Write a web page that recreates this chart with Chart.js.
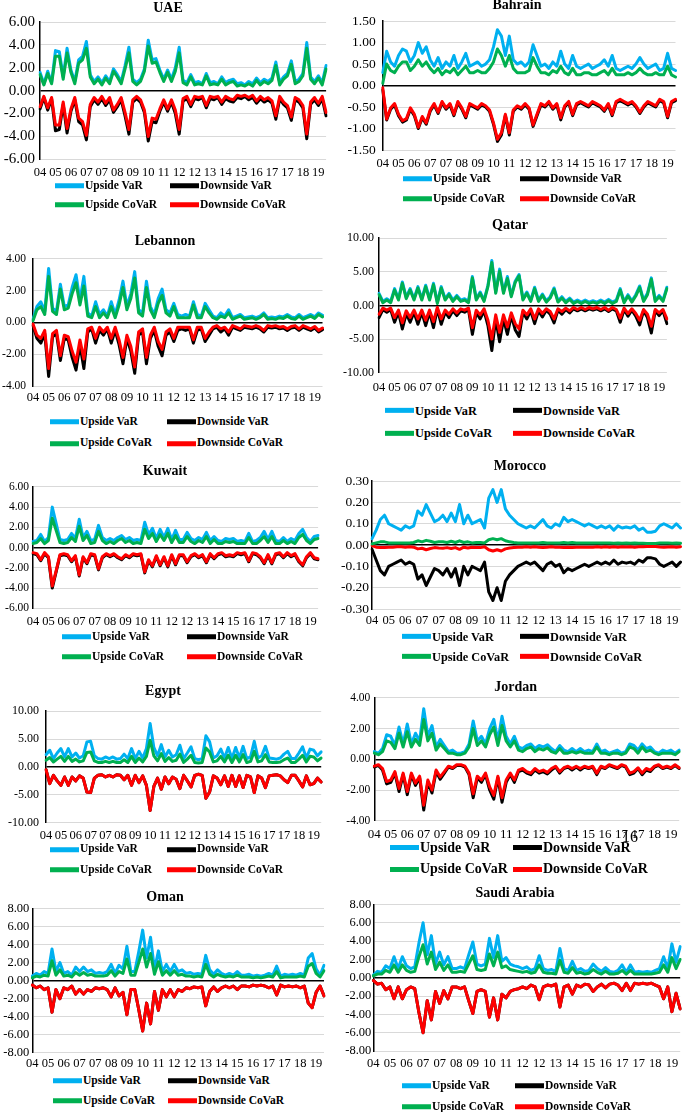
<!DOCTYPE html>
<html><head><meta charset="utf-8">
<script src="https://cdn.jsdelivr.net/npm/chart.js@4.4.0/dist/chart.umd.min.js"></script>
<style>
html,body{margin:0;padding:0;background:#fff;}
body{width:685px;height:1112px;position:relative;overflow:hidden;font-family:"Liberation Serif","Times New Roman",serif;color:#000;}
.title{position:absolute;font-weight:bold;font-size:14px;white-space:nowrap;transform:translate(-50%,-50%);line-height:1;}
.leg{position:absolute;font-weight:bold;white-space:nowrap;display:flex;align-items:center;transform:translateY(-50%);line-height:1;}
.leg i{display:inline-block;width:29px;height:5px;margin-right:1px;}
.stray{position:absolute;font-size:16px;line-height:1;}
</style></head><body>
<script>
// ---- tick labels and series names ----
const yearTicks = ['04','05','06','07','07','08','09','10','11','12','12','13','14','15','16','17','17','18','19'];
const seriesNames = ['Upside VaR','Downside VaR','Upside CoVaR','Downside CoVaR'];
const seriesColors = ['#00B0F0','#000000','#00B050','#FF0000'];

// ---- UAE ----
const uaeUpVaR = [1.6,0.6,1.7,0.7,3.5,3.4,1.2,3.7,1.8,0.8, 2.7,3.0,4.3,1.4,0.8,1.2,0.7,1.3,0.8,1.9, 1.4,0.8,2.2,3.8,1.0,0.7,1.0,1.9,4.4,2.7, 2.8,1.8,1.0,1.8,1.0,2.0,3.8,0.9,0.7,1.4, 0.7,0.8,0.6,1.5,0.7,0.8,0.6,1.2,0.7,0.9, 1.0,0.6,0.7,0.5,0.8,0.6,1.1,0.7,1.0,0.8, 1.1,2.5,0.7,1.2,1.5,2.6,0.8,1.0,1.5,4.2, 1.2,0.8,1.3,0.7,2.2];
const uaeDownVaR = [-1.6,-0.6,-1.7,-0.7,-3.5,-3.4,-1.2,-3.7,-1.8,-0.8, -2.7,-3.0,-4.3,-1.4,-0.8,-1.2,-0.7,-1.3,-0.8,-1.9, -1.4,-0.8,-2.2,-3.8,-1.0,-0.7,-1.0,-1.9,-4.4,-2.7, -2.8,-1.8,-1.0,-1.8,-1.0,-2.0,-3.8,-0.9,-0.7,-1.4, -0.7,-0.8,-0.6,-1.5,-0.7,-0.8,-0.6,-1.2,-0.7,-0.9, -1.0,-0.6,-0.7,-0.5,-0.8,-0.6,-1.1,-0.7,-1.0,-0.8, -1.1,-2.5,-0.7,-1.2,-1.5,-2.6,-0.8,-1.0,-1.5,-4.2, -1.2,-0.8,-1.3,-0.7,-2.2];
const uaeUpCoVaR = [1.4,0.5,1.5,0.6,3.0,3.0,1.0,3.3,1.6,0.6, 2.4,2.7,3.7,1.2,0.6,1.0,0.5,1.1,0.6,1.7, 1.2,0.6,1.9,3.3,0.8,0.5,0.8,1.7,3.9,2.4, 2.5,1.6,0.8,1.6,0.8,1.7,3.3,0.7,0.5,1.2, 0.5,0.6,0.5,1.3,0.5,0.6,0.5,1.0,0.5,0.7, 0.8,0.4,0.5,0.4,0.6,0.4,0.9,0.5,0.8,0.6, 0.9,2.2,0.5,1.0,1.3,2.3,0.6,0.8,1.3,3.7, 1.0,0.6,1.1,0.5,1.9];
const uaeDownCoVaR = [-1.4,-0.5,-1.5,-0.6,-3.0,-3.0,-1.0,-3.3,-1.6,-0.6, -2.4,-2.7,-3.9,-1.2,-0.6,-1.0,-0.5,-1.1,-0.6,-1.7, -1.2,-0.6,-1.9,-3.4,-0.8,-0.5,-0.8,-1.7,-4.0,-2.4, -2.5,-1.6,-0.8,-1.6,-0.8,-1.7,-3.4,-0.7,-0.5,-1.2, -0.5,-0.6,-0.5,-1.3,-0.5,-0.6,-0.5,-1.0,-0.5,-0.7, -0.8,-0.4,-0.5,-0.4,-0.6,-0.4,-0.9,-0.5,-0.8,-0.6, -0.9,-2.2,-0.5,-1.0,-1.3,-2.3,-0.6,-0.8,-1.3,-3.8, -1.0,-0.6,-1.1,-0.5,-1.9];

// ---- Bahrain ----
const bahUpVaR = [0.30,0.80,0.55,0.45,0.70,0.85,0.80,0.55,0.70,1.00, 0.75,0.90,0.60,0.45,0.65,0.40,0.55,0.45,0.70,0.40, 0.55,0.75,0.45,0.50,0.55,0.45,0.50,0.60,0.90,1.30, 1.15,0.70,1.15,0.60,0.50,0.55,0.45,0.55,0.95,0.70, 0.45,0.50,0.40,0.55,0.45,0.80,0.50,0.40,0.70,0.45, 0.40,0.45,0.50,0.40,0.45,0.50,0.60,0.45,0.70,0.40, 0.35,0.40,0.45,0.40,0.50,0.65,0.50,0.40,0.45,0.50, 0.35,0.40,0.75,0.40,0.35];
const bahDownVaR = [-0.10,-0.80,-0.55,-0.45,-0.70,-0.85,-0.80,-0.55,-0.70,-1.00, -0.75,-0.90,-0.60,-0.45,-0.65,-0.40,-0.55,-0.45,-0.70,-0.40, -0.55,-0.75,-0.45,-0.50,-0.55,-0.45,-0.50,-0.60,-0.90,-1.30, -1.15,-0.70,-1.15,-0.60,-0.50,-0.55,-0.45,-0.55,-0.95,-0.70, -0.45,-0.50,-0.40,-0.55,-0.45,-0.80,-0.50,-0.40,-0.70,-0.45, -0.40,-0.45,-0.50,-0.40,-0.45,-0.50,-0.60,-0.45,-0.70,-0.40, -0.35,-0.40,-0.45,-0.40,-0.50,-0.65,-0.50,-0.40,-0.45,-0.50, -0.35,-0.40,-0.75,-0.40,-0.35];
const bahUpCoVaR = [0.05,0.50,0.35,0.30,0.45,0.55,0.55,0.35,0.45,0.60, 0.45,0.55,0.40,0.30,0.40,0.25,0.35,0.30,0.40,0.25, 0.35,0.45,0.30,0.30,0.35,0.30,0.30,0.40,0.55,0.85, 0.70,0.45,0.70,0.40,0.30,0.30,0.30,0.35,0.65,0.45, 0.30,0.30,0.25,0.35,0.30,0.45,0.30,0.25,0.40,0.25, 0.25,0.30,0.30,0.25,0.25,0.30,0.35,0.25,0.40,0.25, 0.25,0.25,0.30,0.25,0.30,0.40,0.30,0.25,0.25,0.30, 0.25,0.25,0.45,0.25,0.20];
const bahDownCoVaR = [-0.05,-0.78,-0.52,-0.42,-0.67,-0.82,-0.77,-0.52,-0.67,-0.97, -0.72,-0.87,-0.57,-0.42,-0.62,-0.37,-0.52,-0.42,-0.67,-0.37, -0.52,-0.72,-0.42,-0.47,-0.52,-0.42,-0.47,-0.57,-0.87,-1.25, -1.10,-0.67,-1.10,-0.57,-0.47,-0.52,-0.42,-0.52,-0.92,-0.67, -0.42,-0.47,-0.37,-0.52,-0.42,-0.75,-0.47,-0.37,-0.67,-0.42, -0.37,-0.42,-0.47,-0.37,-0.42,-0.47,-0.57,-0.42,-0.67,-0.37, -0.32,-0.37,-0.42,-0.37,-0.47,-0.62,-0.47,-0.37,-0.42,-0.47, -0.32,-0.37,-0.72,-0.37,-0.32];

// ---- Lebanon ----
const lebUpVaR = [0.2,1.0,1.3,0.7,3.4,0.9,0.7,2.4,1.0,1.1, 2.2,3.0,1.4,2.9,0.6,0.4,1.3,0.5,0.8,0.4, 1.3,0.5,1.4,2.6,1.0,1.8,3.2,0.8,0.6,2.6, 1.0,0.5,1.5,2.1,0.8,0.6,1.2,0.5,0.4,0.5, 0.4,1.3,0.5,0.4,1.2,0.8,0.4,0.3,0.6,0.4, 0.8,0.3,0.4,0.5,0.3,0.35,0.4,0.3,0.4,0.6, 0.3,0.35,0.3,0.4,0.35,0.5,0.35,0.3,0.5,0.3, 0.4,0.5,0.35,0.6,0.45];
const lebDownVaR = [-0.2,-1.0,-1.3,-0.7,-3.4,-0.9,-0.7,-2.4,-1.0,-1.1, -2.2,-3.0,-1.4,-2.9,-0.6,-0.4,-1.3,-0.5,-0.8,-0.4, -1.3,-0.5,-1.4,-2.6,-1.0,-1.8,-3.2,-0.8,-0.6,-2.6, -1.0,-0.5,-1.5,-2.1,-0.8,-0.6,-1.2,-0.5,-0.4,-0.5, -0.4,-1.3,-0.5,-0.4,-1.2,-0.8,-0.4,-0.3,-0.6,-0.4, -0.8,-0.3,-0.4,-0.5,-0.3,-0.35,-0.4,-0.3,-0.4,-0.6, -0.3,-0.35,-0.3,-0.4,-0.35,-0.5,-0.35,-0.3,-0.5,-0.3, -0.4,-0.5,-0.35,-0.6,-0.45];
const lebUpCoVaR = [0.1,0.8,1.0,0.5,2.9,0.7,0.5,2.1,0.8,0.9, 1.8,2.5,1.1,2.3,0.4,0.3,1.0,0.3,0.6,0.3, 1.0,0.3,1.1,2.2,0.8,1.5,2.8,0.6,0.4,2.2, 0.8,0.3,1.2,1.7,0.6,0.4,1.0,0.3,0.3,0.3, 0.3,1.1,0.3,0.3,1.0,0.6,0.3,0.2,0.4,0.3, 0.6,0.2,0.3,0.4,0.2,0.25,0.3,0.2,0.3,0.5, 0.2,0.25,0.2,0.3,0.25,0.4,0.25,0.2,0.4,0.2, 0.3,0.4,0.25,0.5,0.35];
const lebDownCoVaR = [-0.1,-0.8,-1.0,-0.5,-2.9,-0.7,-0.5,-2.1,-0.8,-0.9, -1.8,-2.5,-1.1,-2.3,-0.4,-0.3,-1.0,-0.3,-0.6,-0.3, -1.0,-0.3,-1.1,-2.2,-0.8,-1.5,-2.8,-0.6,-0.4,-2.2, -0.8,-0.3,-1.2,-1.7,-0.6,-0.4,-1.0,-0.3,-0.3,-0.3, -0.3,-1.1,-0.3,-0.3,-1.0,-0.6,-0.3,-0.2,-0.4,-0.3, -0.6,-0.2,-0.3,-0.4,-0.2,-0.25,-0.3,-0.2,-0.3,-0.5, -0.2,-0.25,-0.2,-0.3,-0.25,-0.4,-0.25,-0.2,-0.4,-0.2, -0.3,-0.4,-0.25,-0.5,-0.35];

// ---- Qatar ----
const qatUpVaR = [1.8,0.6,1.0,0.6,2.5,1.0,3.5,1.2,2.5,1.0, 2.8,1.0,3.0,1.0,3.3,0.5,2.8,1.0,1.8,0.8, 1.5,0.8,1.0,0.6,4.3,1.0,2.0,0.8,3.0,6.7, 2.0,5.4,2.0,4.3,1.5,3.6,4.6,1.0,2.0,0.8, 2.7,0.8,1.7,0.7,1.3,2.6,0.7,1.3,0.6,1.1, 0.5,0.8,0.5,0.8,0.5,0.7,0.5,0.8,0.5,0.9, 0.5,0.8,2.5,0.6,1.6,0.7,1.6,2.9,0.8,1.8, 4.1,0.8,1.5,0.8,2.7];
const qatDownVaR = [-1.8,-0.6,-1.0,-0.6,-2.5,-1.0,-3.5,-1.2,-2.5,-1.0, -2.8,-1.0,-3.0,-1.0,-3.3,-0.5,-2.8,-1.0,-1.8,-0.8, -1.5,-0.8,-1.0,-0.6,-4.3,-1.0,-2.0,-0.8,-3.0,-6.7, -2.0,-5.4,-2.0,-4.3,-1.5,-3.6,-4.6,-1.0,-2.0,-0.8, -2.7,-0.8,-1.7,-0.7,-1.3,-2.6,-0.7,-1.3,-0.6,-1.1, -0.5,-0.8,-0.5,-0.8,-0.5,-0.7,-0.5,-0.8,-0.5,-0.9, -0.5,-0.8,-2.5,-0.6,-1.6,-0.7,-1.6,-2.9,-0.8,-1.8, -4.1,-0.8,-1.5,-0.8,-2.7];
const qatUpCoVaR = [1.6,0.4,0.8,0.4,2.3,0.8,3.3,1.0,2.3,0.8, 2.6,0.8,2.8,0.8,3.1,0.3,2.6,0.8,1.6,0.6, 1.3,0.6,0.8,0.4,4.1,0.8,1.8,0.6,2.8,6.4, 1.8,5.1,1.8,4.0,1.3,3.4,4.4,0.8,1.8,0.6, 2.5,0.6,1.5,0.5,1.1,2.4,0.5,1.1,0.4,0.9, 0.3,0.6,0.3,0.6,0.3,0.5,0.3,0.6,0.3,0.7, 0.3,0.6,2.3,0.4,1.4,0.5,1.4,2.7,0.6,1.6, 3.9,0.6,1.3,0.6,2.5];
const qatDownCoVaR = [-1.3,-0.4,-0.7,-0.4,-1.8,-0.7,-2.6,-0.8,-1.8,-0.7, -2.0,-0.7,-2.2,-0.7,-2.4,-0.3,-2.0,-0.7,-1.3,-0.5, -1.1,-0.5,-0.7,-0.4,-3.3,-0.7,-1.4,-0.5,-2.2,-5.0, -1.4,-4.0,-1.4,-3.2,-1.1,-2.7,-3.5,-0.7,-1.4,-0.5, -2.0,-0.5,-1.2,-0.5,-0.9,-2.0,-0.5,-0.9,-0.4,-0.8, -0.3,-0.6,-0.3,-0.6,-0.3,-0.5,-0.3,-0.6,-0.3,-0.7, -0.3,-0.6,-1.9,-0.4,-1.2,-0.5,-1.2,-2.2,-0.6,-1.3, -3.1,-0.6,-1.1,-0.6,-2.0];

// ---- Kuwait ----
const kuwUpVaR = [0.6,0.7,1.3,0.6,1.0,4.0,2.4,0.8,0.7,0.8, 1.4,0.9,2.8,1.0,1.6,0.7,0.8,2.2,1.0,0.7, 0.9,0.7,1.0,1.2,0.8,1.0,0.7,0.8,0.7,2.5, 1.3,1.9,0.9,1.8,1.0,1.9,0.8,1.7,0.8,0.8, 1.5,0.9,0.7,1.0,0.8,1.5,0.7,1.1,0.7,0.6, 0.9,0.8,0.9,0.6,0.7,0.6,1.4,0.6,0.7,1.0, 1.6,0.8,1.6,0.7,0.6,1.0,0.6,0.9,0.7,1.4, 1.8,1.0,0.6,1.1,1.2];
const kuwDownVaR = [-0.6,-0.7,-1.3,-0.6,-1.0,-4.0,-2.4,-0.8,-0.7,-0.8, -1.4,-0.9,-2.8,-1.0,-1.6,-0.7,-0.8,-2.2,-1.0,-0.7, -0.9,-0.7,-1.0,-1.2,-0.8,-1.0,-0.7,-0.8,-0.7,-2.5, -1.3,-1.9,-0.9,-1.8,-1.0,-1.9,-0.8,-1.7,-0.8,-0.8, -1.5,-0.9,-0.7,-1.0,-0.8,-1.5,-0.7,-1.1,-0.7,-0.6, -0.9,-0.8,-0.9,-0.6,-0.7,-0.6,-1.4,-0.6,-0.7,-1.0, -1.6,-0.8,-1.6,-0.7,-0.6,-1.0,-0.6,-0.9,-0.7,-1.4, -1.8,-1.0,-0.6,-1.1,-1.2];
const kuwUpCoVaR = [0.4,0.5,0.9,0.4,0.7,2.9,1.7,0.5,0.4,0.5, 1.0,0.6,2.1,0.7,1.2,0.4,0.5,1.6,0.7,0.4, 0.6,0.4,0.7,0.9,0.5,0.7,0.4,0.5,0.4,1.8, 0.9,1.4,0.6,1.3,0.7,1.4,0.5,1.2,0.5,0.5, 1.1,0.6,0.4,0.7,0.5,1.1,0.4,0.8,0.4,0.4, 0.6,0.5,0.6,0.4,0.4,0.4,1.0,0.4,0.4,0.7, 1.1,0.5,1.1,0.4,0.4,0.7,0.4,0.6,0.4,1.0, 1.3,0.7,0.4,0.8,0.9];
const kuwDownCoVaR = [-0.5,-0.6,-1.2,-0.5,-0.9,-3.8,-2.3,-0.7,-0.6,-0.7, -1.3,-0.8,-2.7,-0.9,-1.5,-0.6,-0.7,-2.1,-0.9,-0.6, -0.8,-0.6,-0.9,-1.1,-0.7,-0.9,-0.6,-0.7,-0.6,-2.4, -1.2,-1.8,-0.8,-1.7,-0.9,-1.8,-0.7,-1.6,-0.7,-0.7, -1.4,-0.8,-0.6,-0.9,-0.7,-1.4,-0.6,-1.0,-0.6,-0.5, -0.8,-0.7,-0.8,-0.5,-0.6,-0.5,-1.3,-0.5,-0.6,-0.9, -1.5,-0.7,-1.5,-0.6,-0.5,-0.9,-0.5,-0.8,-0.6,-1.3, -1.7,-0.9,-0.5,-1.0,-1.1];

// ---- Morocco ----
const morUpVaR = [0.03,0.07,0.12,0.14,0.10,0.09,0.08,0.07,0.09,0.08, 0.09,0.16,0.14,0.19,0.15,0.11,0.12,0.14,0.11,0.15, 0.11,0.19,0.10,0.14,0.10,0.11,0.12,0.08,0.22,0.26, 0.20,0.26,0.17,0.14,0.12,0.10,0.09,0.08,0.09,0.08, 0.10,0.12,0.09,0.08,0.10,0.09,0.13,0.11,0.12,0.11, 0.10,0.09,0.10,0.09,0.08,0.09,0.08,0.09,0.07,0.09, 0.08,0.085,0.08,0.09,0.07,0.08,0.06,0.06,0.065,0.09, 0.10,0.09,0.08,0.10,0.08];
const morDownVaR = [-0.02,-0.07,-0.12,-0.14,-0.10,-0.09,-0.08,-0.07,-0.09,-0.08, -0.09,-0.16,-0.14,-0.19,-0.15,-0.11,-0.12,-0.14,-0.11,-0.15, -0.11,-0.19,-0.10,-0.14,-0.10,-0.11,-0.12,-0.08,-0.22,-0.26, -0.20,-0.26,-0.17,-0.14,-0.12,-0.10,-0.09,-0.08,-0.09,-0.08, -0.10,-0.12,-0.09,-0.08,-0.10,-0.09,-0.13,-0.11,-0.12,-0.11, -0.10,-0.09,-0.10,-0.09,-0.08,-0.09,-0.08,-0.09,-0.07,-0.09, -0.08,-0.085,-0.08,-0.09,-0.07,-0.08,-0.06,-0.06,-0.065,-0.09, -0.10,-0.09,-0.08,-0.10,-0.08];
const morUpCoVaR = [0.005,0.01,0.015,0.015,0.01,0.01,0.01,0.01,0.01,0.01, 0.012,0.02,0.015,0.022,0.018,0.012,0.015,0.015,0.012,0.018, 0.012,0.02,0.012,0.015,0.01,0.012,0.012,0.01,0.025,0.03, 0.025,0.03,0.02,0.015,0.012,0.01,0.01,0.01,0.01,0.01, 0.01,0.012,0.01,0.01,0.01,0.01,0.012,0.01,0.012,0.01, 0.01,0.01,0.01,0.01,0.01,0.01,0.01,0.01,0.008,0.01, 0.008,0.01,0.008,0.01,0.008,0.008,0.007,0.007,0.007,0.01, 0.01,0.01,0.008,0.01,0.008];
const morDownCoVaR = [-0.003,-0.01,-0.012,-0.012,-0.01,-0.01,-0.008,-0.008,-0.01,-0.008, -0.01,-0.018,-0.015,-0.022,-0.016,-0.012,-0.014,-0.015,-0.012,-0.016, -0.012,-0.02,-0.01,-0.014,-0.01,-0.012,-0.012,-0.008,-0.022,-0.028, -0.022,-0.028,-0.018,-0.014,-0.012,-0.01,-0.01,-0.008,-0.01,-0.008, -0.01,-0.012,-0.01,-0.008,-0.01,-0.01,-0.012,-0.01,-0.012,-0.01, -0.01,-0.01,-0.01,-0.01,-0.008,-0.01,-0.008,-0.01,-0.008,-0.01, -0.008,-0.009,-0.008,-0.01,-0.008,-0.008,-0.007,-0.007,-0.007,-0.009, -0.01,-0.009,-0.008,-0.01,-0.008];

// ---- Egypt ----
const egyUpVaR = [2.2,3.0,1.5,2.5,3.3,1.8,3.3,1.8,2.5,1.6, 2.0,4.5,4.6,2.0,1.5,1.4,1.8,1.5,1.8,1.4, 1.5,2.3,1.5,3.3,1.5,2.8,1.6,3.3,7.8,3.5, 2.0,4.0,1.8,3.0,1.8,2.2,3.9,1.5,2.5,3.6, 1.5,1.3,1.5,5.6,4.5,1.6,2.0,3.2,1.6,3.5, 1.5,3.5,1.6,3.7,1.5,1.8,4.6,1.6,2.0,3.7, 1.6,1.5,1.4,1.6,2.3,2.8,1.5,1.5,2.5,3.6, 1.6,3.2,3.0,2.0,2.7];
const egyDownVaR = [-0.5,-3.0,-1.5,-2.5,-3.3,-1.8,-3.3,-1.8,-2.5,-1.6, -2.0,-4.5,-4.6,-2.0,-1.5,-1.4,-1.8,-1.5,-1.8,-1.4, -1.5,-2.3,-1.5,-3.3,-1.5,-2.8,-1.6,-3.3,-7.8,-3.5, -2.0,-4.0,-1.8,-3.0,-1.8,-2.2,-3.9,-1.5,-2.5,-3.6, -1.5,-1.3,-1.5,-5.6,-4.5,-1.6,-2.0,-3.2,-1.6,-3.5, -1.5,-3.5,-1.6,-3.7,-1.5,-1.8,-4.6,-1.6,-2.0,-3.7, -1.6,-1.5,-1.4,-1.6,-2.3,-2.8,-1.5,-1.5,-2.5,-3.6, -1.6,-3.2,-3.0,-2.0,-2.7];
const egyUpCoVaR = [1.2,1.7,0.9,1.4,1.9,1.0,1.9,1.0,1.4,0.9, 1.1,2.6,2.7,1.1,0.8,0.8,1.0,0.8,1.0,0.8, 0.8,1.3,0.8,1.9,0.8,1.6,0.9,1.9,4.8,2.0, 1.1,2.4,1.0,1.7,1.0,1.2,2.3,0.8,1.4,2.1, 0.8,0.7,0.8,3.4,2.7,0.9,1.1,1.9,0.9,2.1, 0.8,2.1,0.9,2.2,0.8,1.0,2.8,0.9,1.1,2.2, 0.9,0.8,0.8,0.9,1.3,1.6,0.8,0.8,1.4,2.1, 0.9,1.9,1.8,1.1,1.6];
const egyDownCoVaR = [-0.5,-3.0,-1.5,-2.5,-3.3,-1.8,-3.3,-1.8,-2.5,-1.6, -2.0,-4.5,-4.6,-2.0,-1.5,-1.4,-1.8,-1.5,-1.8,-1.4, -1.5,-2.3,-1.5,-3.3,-1.5,-2.8,-1.6,-3.3,-7.8,-3.5, -2.0,-4.0,-1.8,-3.0,-1.8,-2.2,-3.9,-1.5,-2.5,-3.6, -1.5,-1.3,-1.5,-5.6,-4.5,-1.6,-2.0,-3.2,-1.6,-3.5, -1.5,-3.5,-1.6,-3.7,-1.5,-1.8,-4.6,-1.6,-2.0,-3.7, -1.6,-1.5,-1.4,-1.6,-2.3,-2.8,-1.5,-1.5,-2.5,-3.6, -1.6,-3.2,-3.0,-2.0,-2.7];

// ---- Jordan ----
const jorUpVaR = [0.5,0.4,0.7,1.6,1.5,0.9,2.1,1.0,2.3,1.0, 1.7,1.2,3.3,1.5,2.2,0.8,1.3,0.9,0.5,0.6, 0.4,0.4,0.5,1.0,2.5,1.2,1.5,1.0,2.0,2.6, 1.2,2.8,1.5,1.0,1.5,0.8,0.7,0.9,1.0,0.7, 0.9,0.8,0.95,0.7,0.5,0.9,0.6,0.5,0.7,0.5, 0.7,0.5,0.6,0.5,1.0,0.5,0.6,0.4,0.5,0.6, 0.4,0.5,1.0,0.9,0.6,1.0,0.7,0.8,0.5,0.4, 0.6,0.5,0.6,0.4,0.6];
const jorDownVaR = [-0.5,-0.4,-0.7,-1.6,-1.5,-0.9,-2.1,-1.0,-2.3,-1.0, -1.7,-1.2,-3.3,-1.5,-2.2,-0.8,-1.3,-0.9,-0.5,-0.6, -0.4,-0.4,-0.5,-1.0,-2.5,-1.2,-1.5,-1.0,-2.0,-2.6, -1.2,-2.8,-1.5,-1.0,-1.5,-0.8,-0.7,-0.9,-1.0,-0.7, -0.9,-0.8,-0.95,-0.7,-0.5,-0.9,-0.6,-0.5,-0.7,-0.5, -0.7,-0.5,-0.6,-0.5,-1.0,-0.5,-0.6,-0.4,-0.5,-0.6, -0.4,-0.5,-1.0,-0.9,-0.6,-1.0,-0.7,-0.8,-0.5,-0.4, -0.6,-0.5,-0.6,-0.4,-0.6];
const jorUpCoVaR = [0.4,0.3,0.5,1.2,1.1,0.7,1.7,0.8,1.8,0.8, 1.3,0.9,2.6,1.2,1.7,0.6,1.0,0.7,0.4,0.4, 0.3,0.3,0.4,0.8,2.0,0.9,1.2,0.8,1.6,2.1, 0.9,2.2,1.2,0.8,1.2,0.6,0.5,0.7,0.8,0.5, 0.7,0.6,0.75,0.5,0.4,0.7,0.4,0.4,0.5,0.4, 0.5,0.4,0.4,0.4,0.8,0.4,0.4,0.3,0.4,0.4, 0.3,0.4,0.8,0.7,0.4,0.8,0.5,0.6,0.4,0.3, 0.4,0.4,0.4,0.3,0.5];
const jorDownCoVaR = [-0.45,-0.35,-0.6,-1.45,-1.35,-0.8,-1.9,-0.9,-2.1,-0.9, -1.55,-1.1,-3.0,-1.35,-2.0,-0.7,-1.15,-0.8,-0.45,-0.55, -0.35,-0.35,-0.45,-0.9,-2.25,-1.1,-1.35,-0.9,-1.8,-2.35, -1.1,-2.5,-1.35,-0.9,-1.35,-0.7,-0.6,-0.8,-0.9,-0.6, -0.8,-0.7,-0.85,-0.6,-0.45,-0.8,-0.55,-0.45,-0.6,-0.45, -0.6,-0.45,-0.55,-0.45,-0.9,-0.45,-0.55,-0.35,-0.45,-0.55, -0.35,-0.45,-0.9,-0.8,-0.55,-0.9,-0.6,-0.7,-0.45,-0.35, -0.55,-0.45,-0.55,-0.35,-0.55];

// ---- Oman ----
const omaUpVaR = [0.5,0.8,0.6,1.0,0.8,3.5,1.0,2.0,0.8,1.0, 0.6,1.5,1.0,1.5,1.0,1.2,0.8,0.9,0.8,1.0, 1.8,0.8,1.7,1.3,3.8,1.0,1.0,3.2,5.6,2.5, 4.8,1.2,3.3,1.0,1.8,1.0,1.8,1.0,1.2,0.8, 0.9,0.7,0.8,0.7,2.8,1.2,0.7,1.2,0.8,0.6, 0.8,0.6,1.0,0.6,0.6,0.7,0.5,0.6,0.5,0.6, 0.8,0.6,1.6,0.5,0.7,0.6,0.7,0.6,0.8,0.6, 2.5,3.0,1.3,0.6,1.7];
const omaDownVaR = [-0.5,-0.8,-0.6,-1.0,-0.8,-3.5,-1.0,-2.0,-0.8,-1.0, -0.6,-1.5,-1.0,-1.5,-1.0,-1.2,-0.8,-0.9,-0.8,-1.0, -1.8,-0.8,-1.7,-1.3,-3.8,-1.0,-1.0,-3.2,-5.6,-2.5, -4.8,-1.2,-3.3,-1.0,-1.8,-1.0,-1.8,-1.0,-1.2,-0.8, -0.9,-0.7,-0.8,-0.7,-2.8,-1.2,-0.7,-1.2,-0.8,-0.6, -0.8,-0.6,-1.0,-0.6,-0.6,-0.7,-0.5,-0.6,-0.5,-0.6, -0.8,-0.6,-1.6,-0.5,-0.7,-0.6,-0.7,-0.6,-0.8,-0.6, -2.5,-3.0,-1.3,-0.6,-1.7];
const omaUpCoVaR = [0.3,0.5,0.4,0.6,0.5,2.2,0.6,1.2,0.5,0.6, 0.4,0.9,0.6,0.9,0.6,0.7,0.5,0.5,0.5,0.6, 1.1,0.5,1.0,0.8,2.4,0.6,0.6,2.0,3.5,1.5, 3.0,0.7,2.1,0.6,1.1,0.6,1.1,0.6,0.7,0.5, 0.5,0.4,0.5,0.4,1.8,0.7,0.4,0.7,0.5,0.4, 0.5,0.4,0.6,0.4,0.4,0.4,0.3,0.4,0.3,0.4, 0.5,0.4,1.0,0.3,0.4,0.4,0.4,0.4,0.5,0.4, 1.6,1.9,0.8,0.4,1.1];
const omaDownCoVaR = [-0.5,-0.8,-0.6,-1.0,-0.8,-3.5,-1.0,-2.0,-0.8,-1.0, -0.6,-1.5,-1.0,-1.5,-1.0,-1.2,-0.8,-0.9,-0.8,-1.0, -1.8,-0.8,-1.7,-1.3,-3.8,-1.0,-1.0,-3.2,-5.6,-2.5, -4.8,-1.2,-3.3,-1.0,-1.8,-1.0,-1.8,-1.0,-1.2,-0.8, -0.9,-0.7,-0.8,-0.7,-2.8,-1.2,-0.7,-1.2,-0.8,-0.6, -0.8,-0.6,-1.0,-0.6,-0.6,-0.7,-0.5,-0.6,-0.5,-0.6, -0.8,-0.6,-1.6,-0.5,-0.7,-0.6,-0.7,-0.6,-0.8,-0.6, -2.5,-3.0,-1.3,-0.6,-1.7];

// ---- Saudi Arabia ----
const sauUpVaR = [0.3,0.7,0.6,1.3,1.0,2.3,1.0,2.3,1.3,1.0, 1.2,3.8,6.0,2.5,4.6,1.5,2.8,1.4,2.3,1.0, 1.0,1.2,1.0,2.5,3.9,1.5,1.3,1.5,4.3,2.2, 4.6,1.8,2.2,1.5,1.3,1.2,1.0,1.2,0.8,1.0, 2.4,1.0,0.8,0.9,0.7,3.2,1.0,0.8,1.8,0.8, 1.0,0.7,0.8,1.5,1.0,0.7,1.1,0.7,0.6,0.8, 1.4,0.6,1.4,0.6,0.7,0.6,0.7,0.6,0.8,1.0, 2.3,1.0,3.7,1.7,3.4];
const sauDownVaR = [-0.3,-0.7,-0.6,-1.3,-1.0,-2.3,-1.0,-2.3,-1.3,-1.0, -1.2,-3.8,-6.0,-2.5,-4.6,-1.5,-2.8,-1.4,-2.3,-1.0, -1.0,-1.2,-1.0,-2.5,-3.9,-1.5,-1.3,-1.5,-4.3,-2.2, -4.6,-1.8,-2.2,-1.5,-1.3,-1.2,-1.0,-1.2,-0.8,-1.0, -2.4,-1.0,-0.8,-0.9,-0.7,-3.2,-1.0,-0.8,-1.8,-0.8, -1.0,-0.7,-0.8,-1.5,-1.0,-0.7,-1.1,-0.7,-0.6,-0.8, -1.4,-0.6,-1.4,-0.6,-0.7,-0.6,-0.7,-0.6,-0.8,-1.0, -2.3,-1.0,-3.7,-1.7,-3.4];
const sauUpCoVaR = [0.2,0.4,0.4,0.8,0.6,1.4,0.6,1.4,0.8,0.6, 0.7,2.3,3.6,1.5,2.8,0.9,1.7,0.8,1.4,0.6, 0.6,0.7,0.6,1.5,2.4,0.9,0.8,0.9,2.6,1.3, 2.8,1.1,1.3,0.9,0.8,0.7,0.6,0.7,0.5,0.6, 1.4,0.6,0.5,0.5,0.4,1.9,0.6,0.5,1.1,0.5, 0.6,0.4,0.5,0.9,0.6,0.4,0.7,0.4,0.4,0.5, 0.8,0.4,0.8,0.4,0.4,0.4,0.4,0.4,0.5,0.6, 1.4,0.6,2.2,1.0,2.0];
const sauDownCoVaR = [-0.3,-0.7,-0.6,-1.3,-1.0,-2.3,-1.0,-2.3,-1.3,-1.0, -1.2,-3.8,-6.0,-2.5,-4.6,-1.5,-2.8,-1.4,-2.3,-1.0, -1.0,-1.2,-1.0,-2.5,-3.9,-1.5,-1.3,-1.5,-4.3,-2.2, -4.6,-1.8,-2.2,-1.5,-1.3,-1.2,-1.0,-1.2,-0.8,-1.0, -2.4,-1.0,-0.8,-0.9,-0.7,-3.2,-1.0,-0.8,-1.8,-0.8, -1.0,-0.7,-0.8,-1.5,-1.0,-0.7,-1.1,-0.7,-0.6,-0.8, -1.4,-0.6,-1.4,-0.6,-0.7,-0.6,-0.7,-0.6,-0.8,-1.0, -2.3,-1.0,-3.7,-1.7,-3.4];

// ---- layout (positions only) ----
const panels = [
 {name:'UAE', d:[uaeUpVaR,uaeDownVaR,uaeUpCoVaR,uaeDownCoVaR], min:-6,max:6,step:2,
  colLeft:0, axisX:40, rightX:328, topY:16.7, botY:159.3, labelY:172.7, titleX:168, titleY:8, legY:[185.7,205], legX:[55,170], legFont:11.5, yFont:15, yPad:5, xFont:12.5},
 {name:'Bahrain', d:[bahUpVaR,bahDownVaR,bahUpCoVaR,bahDownCoVaR], min:-1.5,max:1.5,step:0.5,
  colLeft:340, axisX:382.7, rightX:678, topY:14, botY:150, labelY:164, titleX:517, titleY:4.5, legY:[179,199], legX:[403,520], legFont:11.5, yFont:13.5, yPad:7, xFont:12.5},
 {name:'Lebannon', d:[lebUpVaR,lebDownVaR,lebUpCoVaR,lebDownCoVaR], min:-4,max:4,step:2,
  colLeft:0, axisX:33, rightX:323, topY:253.3, botY:386, labelY:398, titleX:165, titleY:240.7, legY:[422,443.3], legX:[50,167], legFont:11.5, yFont:11.5, yPad:7, xFont:12.5},
 {name:'Qatar', d:[qatUpVaR,qatDownVaR,qatUpCoVaR,qatDownCoVaR], min:-10,max:10,step:5,
  colLeft:340, axisX:379, rightX:670, topY:234.5, botY:372.7, labelY:387.3, titleX:510, titleY:224.7, legY:[410.7,433.3], legX:[385,513], legFont:12.3, yFont:12, yPad:5, xFont:12.5},
 {name:'Kuwait', d:[kuwUpVaR,kuwDownVaR,kuwUpCoVaR,kuwDownCoVaR], min:-6,max:6,step:2,
  colLeft:0, axisX:33, rightX:320, topY:484.3, botY:608.3, labelY:621.7, titleX:165, titleY:470.7, legY:[636.7,656.7], legX:[62,187], legFont:11.5, yFont:11.5, yPad:4, xFont:12.5},
 {name:'Morocco', d:[morUpVaR,morDownVaR,morUpCoVaR,morDownCoVaR], min:-0.3,max:0.3,step:0.1,
  colLeft:340, axisX:372, rightX:685, topY:478.3, botY:609, labelY:621, titleX:520, titleY:466, legY:[636.7,656.7], legX:[402,520], legFont:12.3, yFont:13.5, yPad:3, xFont:12.5},
 {name:'Egypt', d:[egyUpVaR,egyDownVaR,egyUpCoVaR,egyDownCoVaR], min:-10,max:10,step:5,
  colLeft:0, axisX:46, rightX:323, topY:705, botY:822.7, labelY:836, titleX:163, titleY:691, legY:[849.3,870], legX:[50,167], legFont:11.5, yFont:12, yPad:7, xFont:12.5},
 {name:'Jordan', d:[jorUpVaR,jorDownVaR,jorUpCoVaR,jorDownCoVaR], min:-4,max:4,step:2,
  colLeft:340, axisX:374.3, rightX:685, topY:695, botY:820.7, labelY:834.3, titleX:515.7, titleY:686.7, legY:[847.7,869], legX:[390,513], legFont:14, yFont:11.5, yPad:4, xFont:13},
 {name:'Oman', d:[omaUpVaR,omaDownVaR,omaUpCoVaR,omaDownCoVaR], min:-8,max:8,step:2,
  colLeft:0, axisX:32.3, rightX:324, topY:906.7, botY:1052.7, labelY:1064, titleX:165, titleY:896.7, legY:[1081,1100.7], legX:[53,168], legFont:11.5, yFont:12.5, yPad:3, xFont:12.5},
 {name:'Saudi Arabia', d:[sauUpVaR,sauDownVaR,sauUpCoVaR,sauDownCoVaR], min:-8,max:8,step:2,
  colLeft:340, axisX:373.3, rightX:681.7, topY:903.5, botY:1051, labelY:1063.3, titleX:515, titleY:893, legY:[1085.7,1106.7], legX:[402,515], legFont:11.5, yFont:12.5, yPad:2, xFont:12.5}
];

Chart.defaults.font.family = '"Liberation Serif","Times New Roman",serif';
Chart.defaults.color = '#000';

const drawOrder = [2,2,1,1];
function fmt(v){ return (Math.abs(v) < 1e-9 ? 0 : v).toFixed(2); }
function isZero(c){ return c.tick && Math.abs(c.tick.value) < 1e-9; }

panels.forEach(p => {
  const n = p.d[0].length;
  const perTick = 4;
  const catLabels = [];
  for (let i = 0; i < n; i++) catLabels.push(i % perTick === 0 && yearTicks[i / perTick] ? yearTicks[i / perTick] : '');

  const top = Math.floor(p.topY) - 8;
  const left = p.colLeft;
  const right = Math.min(685, Math.ceil(p.rightX) + 4);
  const W = right - left;
  const bottom = Math.ceil(p.labelY + 10);
  const H = bottom - top;
  const cv = document.createElement('canvas');
  cv.width = W; cv.height = H;
  cv.style.cssText = `position:absolute;left:${left}px;top:${top}px;width:${W}px;height:${H}px`;
  document.body.appendChild(cv);
  const padTop = p.topY - top;
  const padRight = right - p.rightX;
  const yW = p.axisX - left;
  const xH = H - (p.botY - top);

  new Chart(cv, {
    type: 'line',
    data: {
      labels: catLabels,
      datasets: p.d.map((arr, k) => ({
        label: seriesNames[k], data: arr, borderColor: seriesColors[k], backgroundColor: seriesColors[k],
        borderWidth: 3, pointRadius: 0, tension: 0, fill: false, order: drawOrder[k],
        borderJoinStyle: 'round', borderCapStyle: 'round'
      }))
    },
    options: {
      responsive: false, animation: false, events: [],
      layout: { padding: { top: padTop, right: padRight, left: 0, bottom: 0 }, autoPadding: false },
      plugins: { legend: { display: false }, tooltip: { enabled: false }, title: { display: false } },
      scales: {
        x: {
          grid: { display: false, drawTicks: false }, border: { display: false },
          ticks: { autoSkip: false, maxRotation: 0, minRotation: 0, padding: p.labelY - p.botY - p.xFont * 0.6, font: { size: p.xFont } },
          afterFit(s) { s.height = xH; }
        },
        y: {
          min: p.min, max: p.max,
          ticks: { stepSize: p.step, autoSkip: false, callback: fmt, padding: p.yPad, font: { size: p.yFont } },
          grid: { drawTicks: false, color: c => isZero(c) ? '#000' : '#d9d9d9', lineWidth: c => isZero(c) ? 1.5 : 1 },
          border: { display: true, color: '#000', width: 1.5 },
          afterFit(s) { s.width = yW; }
        }
      }
    }
  });

  const t = document.createElement('div');
  t.className = 'title'; t.textContent = p.name;
  t.style.left = p.titleX + 'px'; t.style.top = p.titleY + 'px';
  document.body.appendChild(t);

  const cells = [[0,0],[0,1],[1,0],[1,1]];
  cells.forEach((rc, k) => {
    const l = document.createElement('div');
    l.className = 'leg';
    l.style.left = p.legX[rc[1]] + 'px';
    l.style.top = p.legY[rc[0]] + 'px';
    l.style.fontSize = p.legFont + 'px';
    const sw = document.createElement('i');
    sw.style.background = seriesColors[k];
    l.appendChild(sw);
    l.appendChild(document.createTextNode(seriesNames[k]));
    document.body.appendChild(l);
  });
});

// stray page number printed over the Jordan panel in the source figure
const stray = document.createElement('div');
stray.className = 'stray'; stray.textContent = '16';
stray.style.left = '622px'; stray.style.top = '829px';
document.body.appendChild(stray);
</script>
</body></html>
